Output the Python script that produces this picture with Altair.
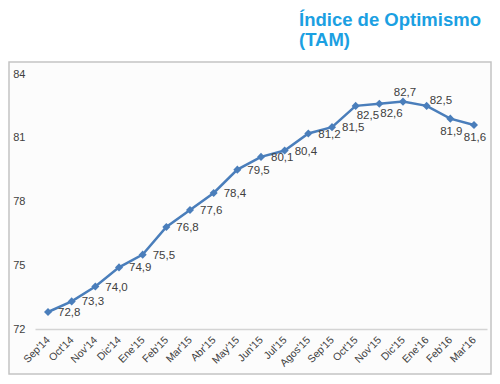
import altair as alt
import pandas as pd

months = ["Sep'14", "Oct'14", "Nov'14", "Dic'14", "Ene'15", "Feb'15", "Mar'15",
          "Abr'15", "May'15", "Jun'15", "Jul'15", "Agos'15", "Sep'15", "Oct'15",
          "Nov'15", "Dic'15", "Ene'16", "Feb'16", "Mar'16"]
values = [72.8, 73.3, 74.0, 74.9, 75.5, 76.8, 77.6, 78.4, 79.5, 80.1, 80.4,
          81.2, 81.5, 82.5, 82.6, 82.7, 82.5, 81.9, 81.6]
y_ticks = [72, 75, 78, 81, 84]
title_lines = ["Índice de Optimismo", "(TAM)"]

df = pd.DataFrame({"mes": months, "valor": values})
df["etiqueta"] = [f"{v:.1f}".replace(".", ",") for v in values]

# label placement groups (by month)
right_grp = months[:13]
below_left_grp = ["Oct'15", "Nov'15"]
above_center_grp = ["Dic'15"]
above_left_grp = ["Ene'16"]
below_center_grp = ["Feb'16", "Mar'16"]

FONT = "Liberation Sans"
LINE_COLOR = "#4a7ebb"
TEXT_COLOR = "#404040"

x_enc = alt.X("mes:N", sort=months, title=None,
              scale=alt.Scale(type="point", padding=0.55),
              axis=alt.Axis(labelAngle=-45, labelAlign="right", labelBaseline="middle",
                            labelPadding=9, ticks=False, domainColor="#d4d4d4",
                            domainWidth=1.5, labelColor=TEXT_COLOR, labelFontSize=10.5,
                            labelFont=FONT, grid=False, zindex=1))
y_enc = alt.Y("valor:Q", title=None,
              scale=alt.Scale(domain=[72, 84], nice=False, zero=False),
              axis=alt.Axis(values=y_ticks, ticks=False, domain=False, grid=False,
                            labelColor=TEXT_COLOR, labelFontSize=11, labelFont=FONT,
                            labelPadding=10, zindex=1))

frame = alt.Chart(alt.Data(values=[{}])).mark_rect(
    fill="#fcfcfc", stroke="#c4c4c4", strokeWidth=1.5
).encode(x=alt.value(-26), x2=alt.value(456), y=alt.value(-12), y2=alt.value(300))

base = alt.Chart(df)

line = base.mark_line(color=LINE_COLOR, strokeWidth=2.5,
                      point=alt.OverlayMarkDef(shape="diamond", size=65, filled=True,
                                               color=LINE_COLOR)).encode(x=x_enc, y=y_enc)


def labels(group, **kw):
    return base.transform_filter(
        alt.FieldOneOfPredicate(field="mes", oneOf=group)
    ).mark_text(font=FONT, fontSize=11.5, color=TEXT_COLOR, **kw).encode(
        x=alt.X("mes:N", sort=months), y="valor:Q", text="etiqueta:N")


layers = [
    frame,
    line,
    labels(right_grp, align="left", baseline="middle", dx=10, dy=1),
    labels(below_left_grp, align="left", baseline="middle", dx=1, dy=10),
    labels(above_center_grp, align="center", baseline="middle", dx=2, dy=-9),
    labels(above_left_grp, align="left", baseline="middle", dx=3, dy=-5),
    labels(below_center_grp, align="center", baseline="middle", dx=1, dy=13),
]

chart = alt.layer(*layers).properties(
    width=452, height=255,
    autosize=alt.AutoSizeParams(type="none"),
    padding={"left": 27, "top": 66, "right": 5, "bottom": 47},
    title=alt.TitleParams(text=title_lines, anchor="start", frame="group", dx=264,
                          offset=12, font=FONT, fontSize=18.5, fontWeight="bold",
                          color="#1ba0e2", lineHeight=20),
).configure_view(stroke=None)

chart.save("out.html", embed_options={"renderer": "svg", "actions": False})
